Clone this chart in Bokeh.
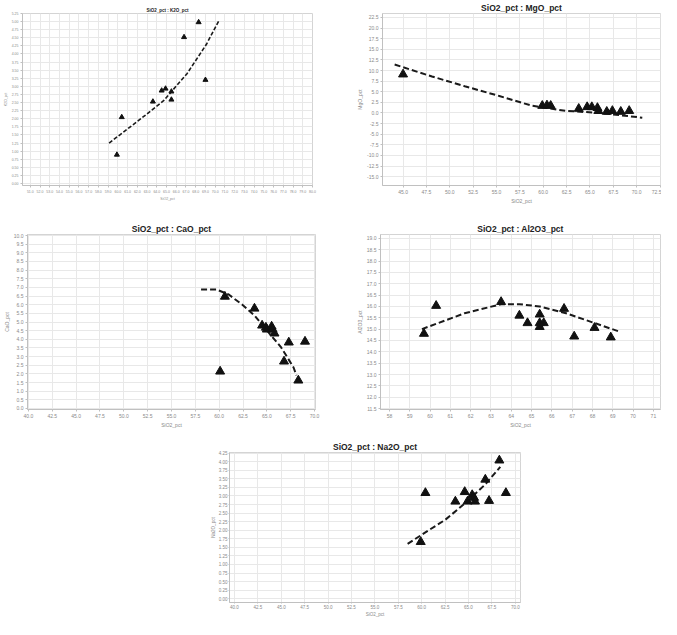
from bokeh.plotting import figure
from bokeh.layouts import column, row, Spacer
from bokeh.models import FixedTicker, PrintfTickFormatter, Range1d
from bokeh.embed import file_html
from bokeh.resources import INLINE

# ---------------- data ----------------
# Chart A: SiO2_pct : K2O_pct
sio2_a = [59.9, 60.4, 63.6, 64.5, 64.9, 65.5, 65.5, 66.8, 68.3, 69.0]
k2o = [0.89, 2.05, 2.53, 2.87, 2.93, 2.84, 2.59, 4.52, 4.98, 3.20]
trend_a_x = [59.1, 62.4, 64.7, 67.1, 69.1, 70.4]
trend_a_y = [1.25, 2.01, 2.56, 3.39, 4.30, 5.04]
ticks_a_x = list(range(51, 81))
ticks_a_y = [round(0.25 * i, 2) for i in range(22)]

# Chart B: SiO2_pct : MgO_pct
sio2_b = [45.0, 59.9, 60.4, 60.8, 63.8, 64.7, 65.2, 65.8, 65.9, 66.8, 67.4, 68.3, 69.2]
mgo = [9.1, 1.7, 1.8, 1.7, 1.0, 1.4, 1.4, 1.2, 0.5, 0.3, 0.5, 0.3, 0.5]
trend_b_x = [44.1, 48.1, 51.6, 55.3, 58.8, 62.4, 65.9, 70.6]
trend_b_y = [11.4, 8.6, 6.3, 4.0, 1.7, 0.5, 0.05, -1.1]
ticks_b_x = [45.0, 47.5, 50.0, 52.5, 55.0, 57.5, 60.0, 62.5, 65.0, 67.5, 70.0, 72.5]
ticks_b_y = [-15.0, -12.5, -10.0, -7.5, -5.0, -2.5, 0.0, 2.5, 5.0, 7.5, 10.0, 12.5, 15.0, 17.5, 20.0, 22.5]

# Chart C: SiO2_pct : CaO_pct
sio2_c = [60.6, 60.1, 63.7, 64.5, 64.9, 65.0, 65.5, 65.6, 65.8, 67.3, 69.0, 66.8, 68.3]
cao = [6.47, 2.14, 5.78, 4.80, 4.68, 4.57, 4.74, 4.57, 4.34, 3.82, 3.87, 2.72, 1.62]
trend_c_x = [58.1, 59.7, 61.0, 62.4, 63.7, 65.0, 66.5, 67.8, 68.1]
trend_c_y = [6.88, 6.88, 6.59, 6.01, 5.38, 4.51, 3.53, 2.37, 1.91]
ticks_c_x = [40.0, 42.5, 45.0, 47.5, 50.0, 52.5, 55.0, 57.5, 60.0, 62.5, 65.0, 67.5, 70.0]
ticks_c_y = [round(0.5 * i, 1) for i in range(21)]

# Chart D: SiO2_pct : Al2O3_pct
sio2_d = [59.7, 60.3, 63.5, 64.4, 64.8, 65.4, 65.4, 65.4, 65.6, 66.6, 67.1, 68.1, 68.9]
al2o3 = [14.8, 16.03, 16.2, 15.6, 15.27, 15.65, 15.27, 15.1, 15.27, 15.9, 14.68, 15.06, 14.64]
trend_d_x = [59.6, 61.7, 63.5, 64.4, 65.4, 66.7, 68.0, 69.3]
trend_d_y = [15.0, 15.7, 16.1, 16.1, 16.0, 15.7, 15.3, 14.9]
ticks_d_x = [58, 59, 60, 61, 62, 63, 64, 65, 66, 67, 68, 69, 70, 71]
ticks_d_y = [11.5, 12.0, 12.5, 13.0, 13.5, 14.0, 14.5, 15.0, 15.5, 16.0, 16.5, 17.0, 17.5, 18.0, 18.5, 19.0]

# Chart E: SiO2_pct : Na2O_pct
sio2_e = [59.9, 60.4, 63.6, 64.6, 64.9, 65.4, 65.6, 65.7, 66.8, 67.2, 68.3, 69.0]
na2o = [1.66, 3.09, 2.84, 3.12, 2.84, 3.03, 2.95, 2.84, 3.48, 2.86, 4.04, 3.09]
trend_e_x = [58.5, 60.4, 62.5, 64.0, 65.4, 66.8, 68.4]
trend_e_y = [1.60, 1.94, 2.30, 2.64, 2.98, 3.34, 3.85]
ticks_e_x = [40.0, 42.5, 45.0, 47.5, 50.0, 52.5, 55.0, 57.5, 60.0, 62.5, 65.0, 67.5, 70.0]
ticks_e_y = [round(0.25 * i, 2) for i in range(18)]

FONT = "Liberation Sans"
GREY = "#8a8a8a"


def make_fig(title, ylabel, w, h, xr, yr, xt, yt, xfmt, yfmt, borders,
             title_size="8.5px", tick_size="5px", label_size="5px",
             xs=None, ys=None, tx=None, ty=None, msize=9, lw=2.0, dash="6 3",
             tick_out=2, lab_so=2, ax_so=1):
    left, right, top, bottom = borders
    p = figure(width=w, height=h, x_range=Range1d(*xr), y_range=Range1d(*yr),
               output_backend="svg", toolbar_location=None,
               min_border_left=left, min_border_right=right,
               min_border_top=top, min_border_bottom=bottom,
               background_fill_color="white", border_fill_color="white")
    p.title.text = title
    p.title.align = "center"
    p.title.text_font = FONT
    p.title.text_font_size = title_size
    p.title.text_font_style = "bold"
    p.title.text_color = "#222222"
    p.title.standoff = 1
    p.title.offset = 0
    p.outline_line_color = "#d4d4d4"
    for ax, ticks, fmt, lab in ((p.xaxis, xt, xfmt, "SiO2_pct"), (p.yaxis, yt, yfmt, ylabel)):
        ax.ticker = FixedTicker(ticks=ticks)
        ax.formatter = PrintfTickFormatter(format=fmt)
        ax.axis_label = lab
        ax.axis_label_text_font = FONT
        ax.axis_label_text_font_size = label_size
        ax.axis_label_text_font_style = "normal"
        ax.axis_label_text_color = GREY
        ax.axis_label_standoff = ax_so
        ax.major_label_text_font = FONT
        ax.major_label_text_font_size = tick_size
        ax.major_label_text_color = GREY
        ax.major_label_standoff = lab_so
        ax.axis_line_color = "#c0c0c0"
        ax.major_tick_line_color = "#c0c0c0"
        ax.major_tick_out = tick_out
        ax.major_tick_in = 0
        ax.minor_tick_line_color = None
    p.xgrid.ticker = FixedTicker(ticks=xt)
    p.ygrid.ticker = FixedTicker(ticks=yt)
    p.xgrid.grid_line_color = "#e8e8e8"
    p.ygrid.grid_line_color = "#e8e8e8"
    p.line(tx, ty, line_color="#1a1a1a", line_width=lw, line_dash=dash)
    p.scatter(xs, ys, marker="triangle", size=msize, fill_color="#111111",
              line_color="#111111")
    return p


# row 1 : y 8..223
pa = make_fig("SiO2_pct : K2O_pct", "K2O_pct", 332, 215, (50.2, 80.0), (-0.06, 5.25),
              ticks_a_x, ticks_a_y, "%.1f", "%.2f", (20, 20, 11, 30),
              title_size="4.5px", tick_size="3.5px", label_size="3.5px",
              xs=sio2_a, ys=k2o, tx=trend_a_x, ty=trend_a_y, msize=5, lw=1.6, dash="4 2")

pb = make_fig("SiO2_pct : MgO_pct", "MgO_pct", 329, 215, (42.8, 72.55), (-17.08, 23.43),
              ticks_b_x, ticks_b_y, "%.1f", "%.1f", (50, 1, 10, 30),
              xs=sio2_b, ys=mgo, tx=trend_b_x, ty=trend_b_y)

# row 2 : y 223..447
pc = make_fig("SiO2_pct : CaO_pct", "CaO_pct", 332, 224, (39.9, 70.1), (-0.06, 10.06),
              ticks_c_x, ticks_c_y, "%.1f", "%.1f", (17, 17, 19, 30),
              xs=sio2_c, ys=cao, tx=trend_c_x, ty=trend_c_y)

pd_ = make_fig("SiO2_pct : Al2O3_pct", "Al2O3_pct", 329, 224, (57.56, 71.35), (11.46, 19.17),
               ticks_d_x, ticks_d_y, "%d", "%.1f", (48, 1, 17, 30),
               xs=sio2_d, ys=al2o3, tx=trend_d_x, ty=trend_d_y)

# row 3 : y 447..627
pe = make_fig("SiO2_pct : Na2O_pct", "Na2O_pct", 340, 180, (39.47, 70.56), (-0.11, 4.27),
              ticks_e_x, ticks_e_y, "%.1f", "%.2f", (37, 12, 10, 12),
              tick_size="4.5px", label_size="4.5px",
              xs=sio2_e, ys=na2o, tx=trend_e_x, ty=trend_e_y,
              tick_out=1, lab_so=1, ax_so=0)

layout = column(row(pa, pb), row(pc, pd_), row(Spacer(width=192, height=180), pe))

open("out.html", "w").write(file_html(layout, INLINE))
